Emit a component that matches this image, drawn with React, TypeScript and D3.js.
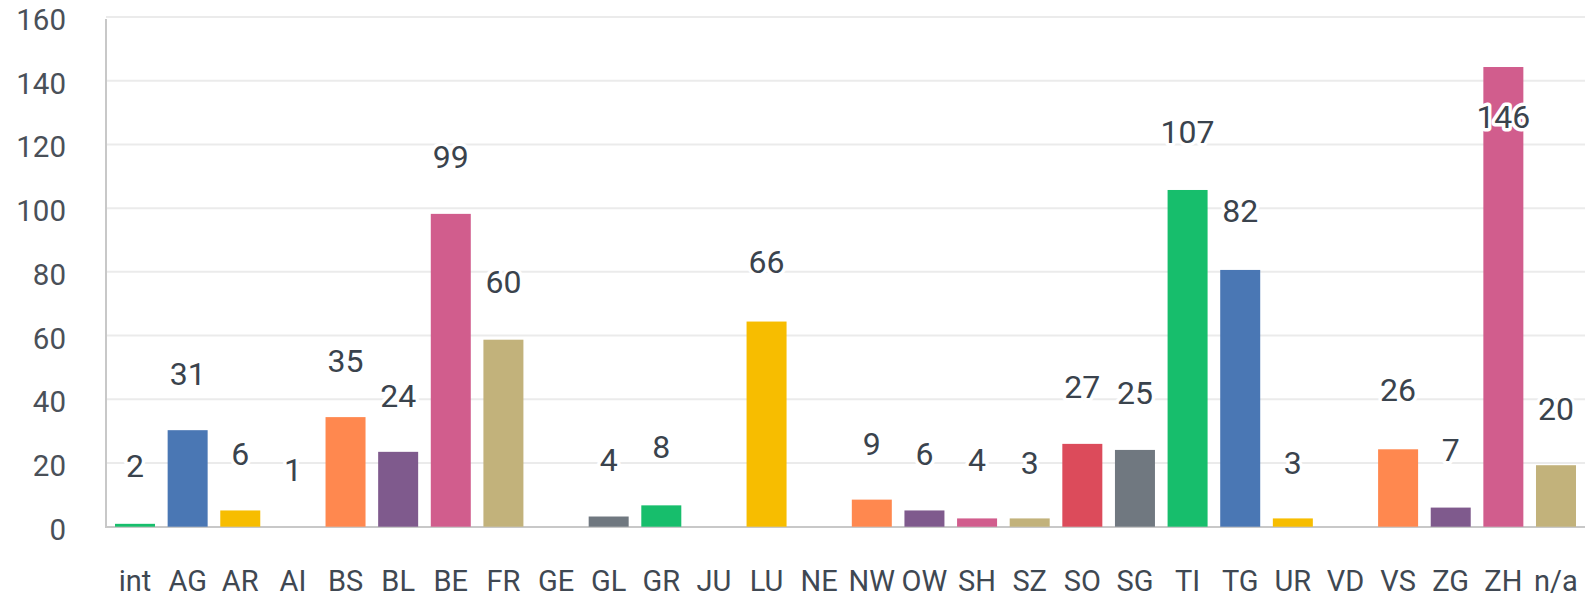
import React from "react";
import * as d3 from "d3";

const categories = ["int","AG","AR","AI","BS","BL","BE","FR","GE","GL","GR","JU","LU","NE","NW","OW","SH","SZ","SO","SG","TI","TG","UR","VD","VS","ZG","ZH","n/a"];
// numbers printed above bars
const labelValues = [2,31,6,1,35,24,99,60,0,4,8,0,66,0,9,6,4,3,27,25,107,82,3,0,26,7,146,20];
// bar heights as drawn in the picture
const barValues = [0.9,30.3,5.1,0,34.4,23.5,98.2,58.7,0,3.2,6.7,0,64.4,0,8.5,5.1,2.6,2.6,26,24.1,105.7,80.6,2.6,0,24.3,6,144.3,19.3];
const yTicks = [0,20,40,60,80,100,120,140,160];
const palette = ["#17be6c","#4a77b4","#f7bd00","#dc4b5b","#ff884f","#7f5a8d","#d15d8d","#c2b27b","#dc4b5b","#707880"];

export default function App() {
  const W = 1585, H = 597;
  const x = d3.scaleBand<string>().domain(categories).range([108.7, 1582.3]).paddingInner(0.24).paddingOuter(0.12);
  const y = d3.scaleLinear().domain([0, 160]).range([526.7, 17]);
  const font = "Roboto, 'Noto Sans', sans-serif";
  return (
    <svg width={W} height={H} style={{ position: "absolute", left: 0, top: 0, background: "#fff" }} fontFamily={font}>
      {yTicks.map((t) => (
        <g key={t}>
          {t > 0 && <line x1={106} x2={1585} y1={y(t)} y2={y(t)} stroke="#ebebeb" strokeWidth={2} />}
          <text x={66} y={y(t) + 3} textAnchor="end" dominantBaseline="central" fontSize={29.5} fill="#4a5058">{t}</text>
        </g>
      ))}
      <line x1={106} x2={106} y1={19} y2={527.5} stroke="#c8c8c8" strokeWidth={2} />
      <line x1={105} x2={1585} y1={527} y2={527} stroke="#c8c8c8" strokeWidth={2} />
      {categories.map((c, i) => (
        <rect key={c} x={x(c)} width={x.bandwidth()} y={y(barValues[i])} height={y(0) - y(barValues[i])} fill={palette[i % palette.length]} />
      ))}
      {categories.map((c, i) => (
        <text key={c} x={(x(c) as number) + x.bandwidth() / 2} y={591} textAnchor="middle" fontSize={29} fill="#3f4852">{c}</text>
      ))}
      {categories.map((c, i) => labelValues[i] > 0 ? (
        <text key={c} x={(x(c) as number) + x.bandwidth() / 2} y={Math.max(y(labelValues[i]) - 43, 128)} textAnchor="middle" fontSize={32} fontWeight={400} fill="#3a434d" stroke="#fff" strokeWidth={7} strokeLinejoin="round" paintOrder="stroke">{labelValues[i]}</text>
      ) : null)}
    </svg>
  );
}
